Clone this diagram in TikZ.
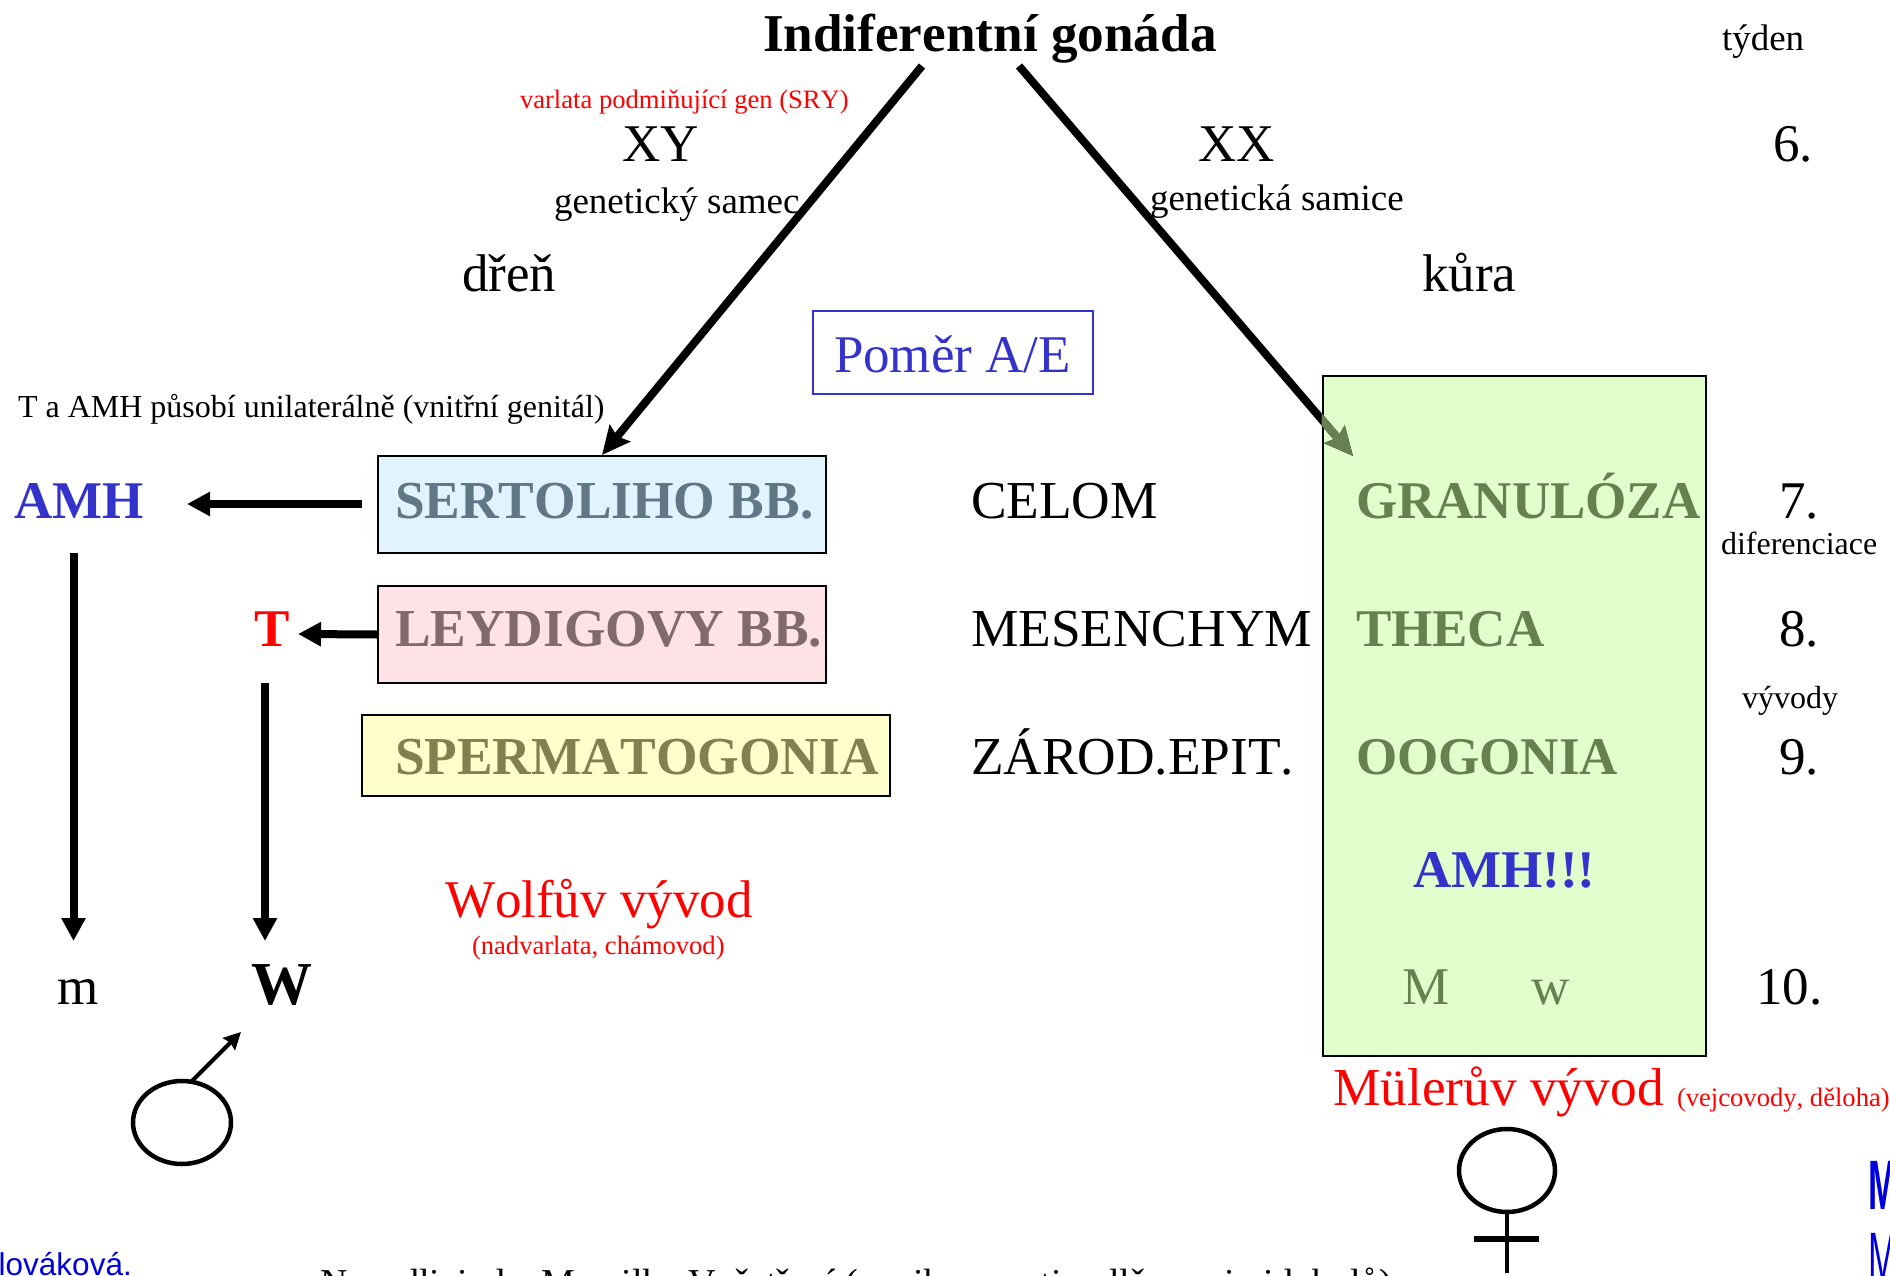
\documentclass[tikz,border=0pt]{standalone}
\usepackage{fontspec}
\setmainfont[Kerning=Off]{Liberation Serif}
\newfontfamily\arialfont{Liberation Sans}
\usetikzlibrary{arrows.meta,shapes.geometric}
\definecolor{cblue}{HTML}{3333CC}
\definecolor{cred}{HTML}{FF0000}
\definecolor{cgreen}{HTML}{668050}
\definecolor{fsert}{HTML}{E0F3FF}
\definecolor{tsert}{HTML}{607785}
\definecolor{fleyd}{HTML}{FFE2E6}
\definecolor{tleyd}{HTML}{806A6B}
\definecolor{fsperm}{HTML}{FFFFCC}
\definecolor{tsperm}{HTML}{808050}
\definecolor{fgreen}{HTML}{E0FFCC}
\definecolor{linkblue}{HTML}{0000DD}
\tikzset{
  lbl/.style={anchor=base west,inner sep=0pt,outer sep=0pt},
  szA/.style={lbl,font=\fontsize{53}{60}\selectfont},
  szAw/.style={lbl,font=\fontsize{53.4}{60}\selectfont},
  szB/.style={lbl,font=\bfseries\fontsize{53}{60}\selectfont},
  szBw/.style={lbl,font=\bfseries\fontsize{53.4}{60}\selectfont},
  szC/.style={lbl,font=\fontsize{37}{42}\selectfont},
  szD/.style={lbl,font=\fontsize{32}{36}\selectfont},
  szE/.style={lbl,font=\fontsize{26}{30}\selectfont},
  szEw/.style={lbl,font=\fontsize{26.6}{30}\selectfont},
  colbox/.style={draw=black,line width=2pt,inner sep=0pt},
  heavy/.style={line width=8pt,-{Stealth[length=28pt,width=26pt,inset=4pt]}},
  shaft/.style={line width=8pt,-{Triangle[length=23pt,width=23pt]}},
  sign/.style={draw=black,line width=4.5pt},
}
\begin{document}
\begin{tikzpicture}[x=1pt,y=-1pt]
\useasboundingbox (0,0) rectangle (1890,1276);
\clip (0,0) rectangle (1890,1276);
% coloured boxes
\node[colbox,fill=fgreen,minimum width=383pt,minimum height=680pt] (gbox) at (1514,716) {};
\node[colbox,fill=fsert,minimum width=448pt,minimum height=97pt] (sert) at (602,504.5) {};
\node[colbox,fill=fleyd,minimum width=448pt,minimum height=97pt] (leyd) at (602,634.5) {};
\node[colbox,fill=fsperm,minimum width=528pt,minimum height=81pt] (sperm) at (626,755.5) {};
\node[draw=cblue,line width=2pt,inner sep=0pt,minimum width=280pt,minimum height=83pt] (pomer) at (953,352.5) {};
% title
\node[lbl,font=\bfseries\fontsize{53.2}{60}\selectfont] (title) at (763,52) {Indiferentní gonáda};
\coordinate (tl) at (922,66);
\coordinate (tr) at (1019,66);
\coordinate (gr) at (1353,456);
\draw[heavy] (tl) -- (sert.north);
\draw[heavy] (tr) -- (gr);
\begin{scope}
\clip (gbox.north west) rectangle (gbox.south east);
\draw[heavy,draw=cgreen,fill=cgreen] (tr) -- (gr);
\end{scope}
% top labels
\node[szC] (tyden) at (1722,51) {týden};
\node[szEw,text=cred] (sry) at (520,109) {varlata podmiňující gen (SRY)};
\node[szA] (xy) at (622,162) {XY};
\node[szA] (xx) at (1198,162) {XX};
\node[szA] (w6) at (1773,162) {6.};
\node[szC] (gsam) at (554,214) {genetický samec};
\node[szC] (gsa) at (1150,211) {genetická samice};
\node[szA] (dren) at (462,291) {dřeň};
\node[szA] (kura) at (1422,291) {kůra};
\node[szA,text=cblue] (pomert) at (834,372) {Poměr A/E};
\node[szD] (tamh) at (18,417) {T a AMH působí unilaterálně (vnitřní genitál)};
% row 1
\node[szB,text=cblue] (amh) at (14,518) {AMH};
\node[szBw,text=tsert] (sertt) at (395,518) {SERTOLIHO BB.};
\node[szAw] (celom) at (971,518) {CELOM};
\node[szB,text=cgreen] (gran) at (1356,518) {GRANULÓZA};
\node[szA] (w7) at (1779,518) {7.};
\node[szD] (dif) at (1721,554) {diferenciace};
% row 2
\node[szB,text=cred] (tn) at (254,646) {T};
\node[szBw,text=tleyd] (leydt) at (395,646) {LEYDIGOVY BB.};
\node[szAw] (mes) at (971,646) {MESENCHYM};
\node[szB,text=cgreen] (theca) at (1356,646) {THECA};
\node[szA] (w8) at (1779,646) {8.};
\node[szD] (vyv) at (1742,708) {vývody};
% row 3
\node[szBw,text=tsperm] (spermt) at (395,774) {SPERMATOGONIA};
\node[szAw] (zar) at (971,774) {ZÁROD.EPIT.};
\node[szB,text=cgreen] (oog) at (1356,774) {OOGONIA};
\node[szA] (w9) at (1779,774) {9.};
% lower
\node[szB,text=cblue] (amhx) at (1413,887) {AMH!!!};
\node[szA,text=cred] (wolf) at (445,917) {Wolfův vývod};
\node[szEw,text=cred] (nad) at (472,954) {(nadvarlata, chámovod)};
\node[szA] (mm) at (57,1004) {m};
\node[lbl,font=\bfseries\fontsize{61}{66}\selectfont] (ww) at (251,1004) {W};
\node[szA,text=cgreen] (gm) at (1402,1004) {M};
\node[szA,text=cgreen] (gw) at (1531,1004) {w};
\node[szA] (w10) at (1756,1004) {10.};
\node[szAw,text=cred] (mul) at (1333,1105) {Mülerův vývod};
\node[szEw,text=cred] (vej) at (1677,1106) {(vejcovody, děloha)};
% connectors
\coordinate (a1s) at (362,504);
\coordinate (a1e) at (187,504);
\coordinate (a2e) at (298,634);
\coordinate (a3s) at (73.5,553);
\coordinate (a3e) at (73.5,941);
\coordinate (a4s) at (265,683);
\coordinate (a4e) at (265,941);
\draw[shaft] (a1s) -- (a1e);
\draw[shaft] (leyd.west) -- (a2e);
\draw[shaft] (a3s) -- (a3e);
\draw[shaft] (a4s) -- (a4e);
% male sign
\node[sign,ellipse,minimum width=98pt,minimum height=83pt,inner sep=0pt] (male) at (182,1122.5) {};
\coordinate (ms) at (192,1081);
\coordinate (me) at (241,1032);
\draw[line width=4pt,-{Stealth[length=17pt,width=17pt,inset=2pt]}] (ms) -- (me);
% female sign
\node[sign,ellipse,minimum width=96pt,minimum height=83pt,inner sep=0pt] (female) at (1507,1170.5) {};
\coordinate (fe) at (1507,1273);
\coordinate (fa) at (1474,1239);
\coordinate (fb) at (1539,1239);
\draw[line width=4pt] (female.south) -- (fe);
\draw[line width=6pt] (fa) -- (fb);
% clipped page-edge text
\node[anchor=base east,inner sep=0pt,text=linkblue,font=\arialfont\fontsize{31.5}{34}\selectfont] (lov) at (132,1275) {lováková.};
\node[lbl,xscale=.5,transform shape,text=linkblue,font=\arialfont\bfseries\fontsize{70}{72}\selectfont] (m1) at (1868,1209) {M};
\node[lbl,xscale=.5,transform shape,text=linkblue,font=\arialfont\fontsize{70}{72}\selectfont] (m2) at (1868,1281) {M};
\node[lbl,font=\fontsize{38}{42}\selectfont] (bot) at (320,1295) {Nepadlicind e Marcilka Vyšetření (vznik nonesti nollše soni oidobolů)};
\end{tikzpicture}
\end{document}
